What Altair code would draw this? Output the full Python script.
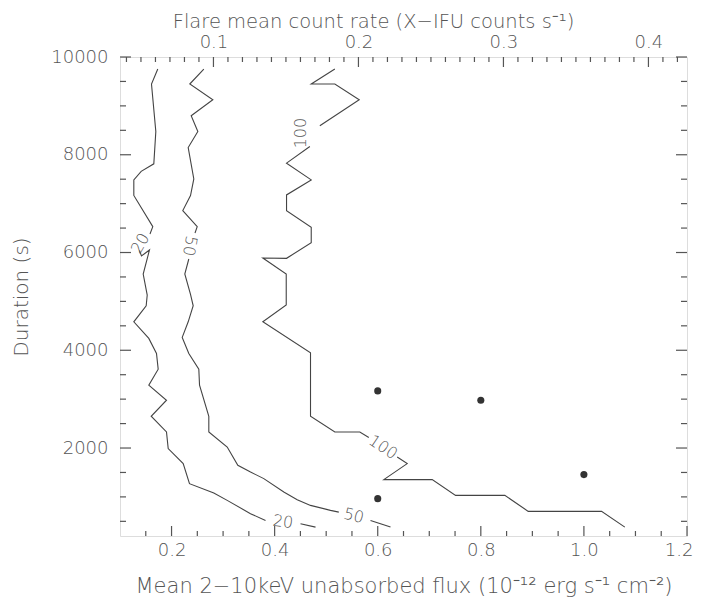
import altair as alt
import pandas as pd

# ---------------- data ----------------
# contour level 20 (segments broken where the labels sit)
c20a_x = [0.1733, 0.1611, 0.1695, 0.1656, 0.1411, 0.1268, 0.1268, 0.1636, 0.1582]
c20a_y = [9754, 9447, 8476, 7814, 7660, 7486, 7168, 6529, 6379]
c20b_x = [0.1378, 0.1417, 0.1572, 0.1450, 0.1528, 0.1508, 0.1268, 0.1559, 0.1708,
          0.1741, 0.1559, 0.1902, 0.1605, 0.1902, 0.1935, 0.2226, 0.2348, 0.2820,
          0.3080, 0.3532, 0.3823]
c20b_y = [6041, 5929, 6052, 5560, 5130, 4910, 4582, 4242, 3935,
          3613, 3285, 2978, 2650, 2329, 1988, 1681, 1271, 1079,
          929, 657, 519]
c20c_x = [0.4502, 0.4793]
c20c_y = [452, 382]

# contour level 50
c50a_x = [0.2626, 0.2354, 0.2801, 0.2381, 0.2510, 0.2323, 0.2432, 0.2368, 0.2218,
          0.2498, 0.2455]
c50a_y = [9754, 9447, 9125, 8797, 8476, 8148, 7506, 7164, 6857,
          6529, 6400]
c50b_x = [0.2335, 0.2257, 0.2368, 0.2420, 0.2323, 0.2207, 0.2335, 0.2529, 0.2543,
          0.2723, 0.2723, 0.3080, 0.3286, 0.3532, 0.3790, 0.4178, 0.4438, 0.4696,
          0.5084, 0.5245]
c50b_y = [5867, 5560, 5144, 4910, 4582, 4263, 3935, 3613, 3285,
          2650, 2329, 2021, 1646, 1509, 1374, 1099, 943, 826,
          724, 689]
c50c_x = [0.5860, 0.6248]
c50c_y = [519, 386]

# contour level 100
c100a_x = [0.5168, 0.4710, 0.5168, 0.5641, 0.4877]
c100a_y = [9754, 9447, 9447, 9125, 8592]
c100b_x = [0.4683, 0.4231, 0.4710, 0.4231, 0.4231, 0.4710, 0.4710, 0.4231, 0.3771,
           0.4225, 0.4225, 0.3771, 0.4696, 0.4696, 0.5168, 0.5653, 0.5827]
c100b_y = [8168, 7828, 7486, 7178, 6857, 6517, 6201, 5881, 5888,
           5560, 4925, 4582, 3947, 2650, 2329, 2329, 2214]
c100c_x = [0.6378, 0.6572, 0.6118, 0.7057, 0.7510, 0.8466, 0.8920, 1.0342, 1.0794]
c100c_y = [1816, 1681, 1353, 1353, 1032, 1032, 704, 704, 382]

# contour labels
lab_text = ["20", "50", "100", "100", "20", "50"]
lab_x = [0.1398, 0.2352, 0.4502, 0.6103, 0.4163, 0.5536]
lab_y = [6185, 6134, 8443, 2015, 489, 611]
lab_angle = [300, 100, 270, 34, 8, 14]

# observed flares
pt_x = [0.6, 0.8, 1.0, 0.6]
pt_y = [3169, 2978, 1456, 964]

# axis ticks
x_major = [0.2, 0.4, 0.6, 0.8, 1.0, 1.2]
x_minor = [0.15, 0.25, 0.3, 0.35, 0.45, 0.5, 0.55, 0.65, 0.7, 0.75, 0.85, 0.9,
           0.95, 1.05, 1.1, 1.15]
y_major = [2000, 4000, 6000, 8000, 10000]
y_minor = [500, 1000, 1500, 2500, 3000, 3500, 4500, 5000, 5500, 6500, 7000, 7500,
           8500, 9000, 9500]
rate_major = [0.1, 0.2, 0.3, 0.4]
rate_minor = [0.04, 0.05, 0.06, 0.07, 0.08, 0.09, 0.11, 0.12, 0.13, 0.14, 0.15,
              0.16, 0.17, 0.18, 0.19, 0.21, 0.22, 0.23, 0.24, 0.25, 0.26, 0.27,
              0.28, 0.29, 0.31, 0.32, 0.33, 0.34, 0.35, 0.36, 0.37, 0.38, 0.39,
              0.41, 0.42]
rate_per_flux = 0.3555

# ---------------- build tables ----------------
segs = [("20a", c20a_x, c20a_y), ("20b", c20b_x, c20b_y), ("20c", c20c_x, c20c_y),
        ("50a", c50a_x, c50a_y), ("50b", c50b_x, c50b_y), ("50c", c50c_x, c50c_y),
        ("100a", c100a_x, c100a_y), ("100b", c100b_x, c100b_y),
        ("100c", c100c_x, c100c_y)]
rows = []
for name, xs, ys in segs:
    for i, (xv, yv) in enumerate(zip(xs, ys)):
        rows.append({"seg": name, "i": i, "x": xv, "y": yv})
df_lines = pd.DataFrame(rows)
df_lab = pd.DataFrame({"t": lab_text, "x": lab_x, "y": lab_y, "a": lab_angle})
df_pts = pd.DataFrame({"x": pt_x, "y": pt_y})

W, H = 567, 479
FONT = "DejaVu Sans"
TXT = "#555555"
LINE = "#444444"
FS = 18


def flux_scale():
    return alt.Scale(domain=[0.1, 1.2], nice=False, zero=False)


def dur_scale():
    return alt.Scale(domain=[200, 10000], nice=False, zero=False)


def rate_scale():
    return alt.Scale(domain=[0.1 * rate_per_flux, 1.2 * rate_per_flux],
                     nice=False, zero=False)


common_axis = dict(ticks=False, tickSize=0, domain=False, grid=False,
                   labelFont=FONT, labelFontSize=FS, labelColor=TXT,
                   labelOverlap=False, labelFontWeight=300,
                   titleFont=FONT, titleColor=TXT, titleFontWeight=300)


def x_axis():
    return alt.Axis(orient="bottom", values=x_major, format=".1f",
                    labelBaseline="alphabetic", labelPadding=19,
                    labelFlush=True, labelFlushOffset=6,
                    title="Mean 2\u221210keV unabsorbed flux (10\u207b\u00b9\u00b2 erg s\u207b\u00b9 cm\u207b\u00b2)",
                    titleFontSize=21,
                    titleX=W / 2, titleY=56, titleAlign="center",
                    titleBaseline="alphabetic", titleAnchor="start", **common_axis)


def y_axis():
    return alt.Axis(orient="left", values=y_major, format="d", labelPadding=12,
                    labelBaseline="middle", labelFlush=False, titleFontSize=20,
                    title="Duration (s)", titleX=-99, titleY=H / 2,
                    titleAngle=270, titleAlign="center", titleBaseline="middle",
                    titleAnchor="start", **common_axis)


top_axis = alt.Axis(orient="top", values=rate_major, format=".1f",
                    labelBaseline="alphabetic", labelPadding=10, labelFlush=False,
                    title="Flare mean count rate (X\u2212IFU counts s\u207b\u00b9)",
                    titleFontSize=19.5,
                    titleX=253, titleY=-30, titleAlign="center",
                    titleBaseline="alphabetic", titleAnchor="start", **common_axis)


def Y(field):
    # identical y axis on every layer so they merge into one
    return alt.Y(field, scale=dur_scale(), axis=y_axis())


lines = alt.Chart(df_lines).mark_line(color=LINE, strokeWidth=1.1).encode(
    x=alt.X("x:Q", scale=flux_scale(), axis=x_axis()),
    y=Y("y:Q"),
    detail="seg:N",
    order="i:Q",
)

dots = alt.Chart(df_pts).mark_circle(size=50, color="#333333", opacity=1).encode(
    x=alt.X("x:Q", scale=flux_scale(), axis=None),
    y=Y("y:Q"),
)

labels = alt.Chart(df_lab).mark_text(font=FONT, fontSize=16, color=TXT,
                                     fontWeight=300, align="center",
                                     baseline="middle").encode(
    x=alt.X("x:Q", scale=flux_scale(), axis=None),
    y=Y("y:Q"),
    text="t:N",
    angle=alt.Angle("a:Q", scale=None),
)


def yticks(vals, length, right):
    d = pd.DataFrame({"v": vals})
    x0 = W if right else 0
    x1 = W - length if right else length
    return alt.Chart(d).mark_rule(color=TXT, strokeWidth=1.2).encode(
        y=Y("v:Q"),
        x=alt.value(x0), x2=alt.value(x1))


def xticks(vals, length):
    d = pd.DataFrame({"v": vals})
    return alt.Chart(d).mark_rule(color=TXT, strokeWidth=1.2).encode(
        x=alt.X("v:Q", scale=flux_scale(), axis=None),
        y=alt.value(H), y2=alt.value(H - length))


def rticks(vals, length, axis):
    d = pd.DataFrame({"v": vals})
    return alt.Chart(d).mark_rule(color=TXT, strokeWidth=1.2).encode(
        x=alt.X("v:Q", scale=rate_scale(), axis=axis),
        y=alt.value(0), y2=alt.value(length))


chart = alt.layer(
    lines, dots, labels,
    yticks(y_major, 11, False), yticks(y_minor, 6, False),
    yticks(y_major, 11, True), yticks(y_minor, 6, True),
    xticks(x_major, 10), xticks(x_minor, 5),
    rticks(rate_major, 10, top_axis), rticks(rate_minor, 5, None),
).resolve_scale(x="independent").properties(
    width=W, height=H,
    autosize=alt.AutoSizeParams(type="none"),
    padding={"left": 112, "top": 49, "right": 7, "bottom": 64},
).configure_view(stroke="#555555", strokeWidth=1.3).configure(background="white")

chart.save("out.html", embed_options={"renderer": "svg", "actions": False})
